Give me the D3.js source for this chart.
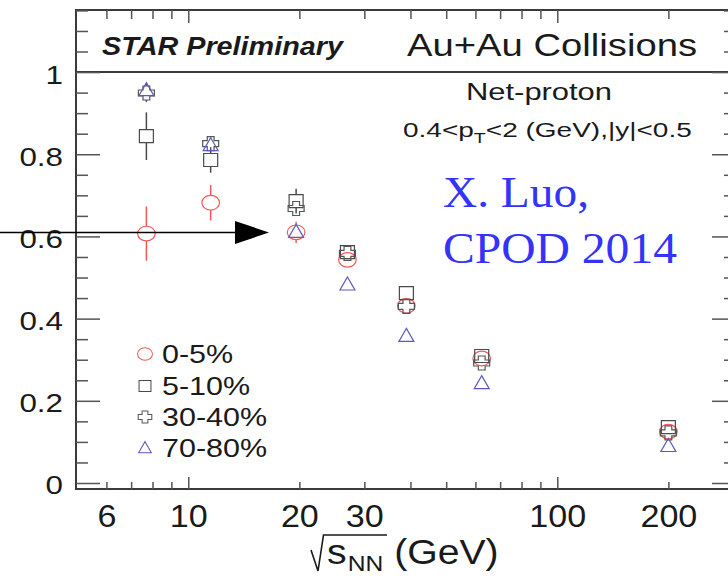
<!DOCTYPE html>
<html>
<head>
<meta charset="utf-8">
<script src="https://cdn.jsdelivr.net/npm/d3@7"></script>
<style>
  body { margin: 0; background: #fff; }
  svg { display: block; }
  text { font-family: "Liberation Sans", Arial, sans-serif; fill: #1a1a1a; }
</style>
</head>
<body>
<script>
// data
var energies = [7.7, 11.5, 19.6, 27, 39, 62.4, 200];
var cent0_5 = [0.607, 0.682, 0.610, 0.543, 0.431, 0.303, 0.125];
var err0_5 = [0.066, 0.043, 0.026, 0.008, 0.006, 0.004, 0.003];
var cent5_10 = [0.844, 0.786, 0.686, 0.562, 0.462, 0.309, 0.136];
var err5_10 = [0.058, 0.031, 0.030, 0.010, 0.007, 0.005, 0.003];
var cent30_40 = [0.949, 0.826, 0.668, 0.559, 0.430, 0.292, 0.122];
var err30_40 = [0.022, 0.012, 0.010, 0.006, 0.004, 0.003, 0.002];
var cent70_80 = [0.956, 0.822, 0.611, 0.483, 0.358, 0.243, 0.090];
var err70_80 = [0.015, 0.010, 0.008, 0.006, 0.004, 0.003, 0.002];
var legendLabels = ["0-5%", "5-10%", "30-40%", "70-80%"];
var xLabelTicks = [6, 10, 20, 30, 100, 200];
var yLabelTicks = [0, 0.2, 0.4, 0.6, 0.8, 1];

var w = 728, h = 578;
var padL = 76, padR = 736, padT = 10, padB = 489;

var svg = d3.select("body").append("svg").attr("width", w).attr("height", h);

var x = d3.scaleLog().domain([4.963, 305]).range([padL, padR]);
var y = d3.scaleLinear().domain([-0.0146, 1.151]).range([padB, padT]);

// stretch text horizontally, like the source picture
function stretch(sel, sx) {
    sel.each(function () {
        var t = d3.select(this);
        var tx = +t.attr("x") || 0, ty = +t.attr("y") || 0;
        t.attr("x", 0).attr("y", 0).attr("transform", "translate(" + tx + "," + ty + ") scale(" + sx + ",1)");
    });
}

var series = [
    { vals: cent0_5, errs: err0_5, color: "#f25a5a", shape: "circle" },
    { vals: cent5_10, errs: err5_10, color: "#4a4a4a", shape: "square" },
    { vals: cent30_40, errs: err30_40, color: "#555555", shape: "cross" },
    { vals: cent70_80, errs: err70_80, color: "#5a5ac0", shape: "triangle" }
];

function markerPath(shape) {
    if (shape == "square") return "M-7,-6.5H7V6.5H-7Z";
    if (shape == "triangle") return "M0,-7.5L7.5,5.5H-7.5Z";
    var a = 3, s = 7, ax = 3.4, sx = 8;
    return "M" + (-ax) + "," + (-s) + "H" + ax + "V" + (-a) + "H" + sx + "V" + a + "H" + ax + "V" + s +
        "H" + (-ax) + "V" + a + "H" + (-sx) + "V" + (-a) + "H" + (-ax) + "Z";
}
var halfH = { circle: 7.3, square: 6.5, triangle: 6.5, cross: 7 };

function drawMarker(g, shape, color) {
    if (shape == "circle") {
        g.append("ellipse").attr("rx", 8.8).attr("ry", 7.3)
            .attr("fill", "none").attr("stroke", color).attr("stroke-width", 1.2);
    } else {
        g.append("path").attr("d", markerPath(shape))
            .attr("fill", "none").attr("stroke", color).attr("stroke-width", 1.2);
    }
}

// frame
svg.append("rect").attr("x", padL).attr("y", padT).attr("width", padR - padL).attr("height", padB - padT)
    .attr("fill", "none").attr("stroke", "#3a3a3a").attr("stroke-width", 2);
svg.append("line").attr("x1", padL).attr("x2", padR).attr("y1", y(1)).attr("y2", y(1))
    .attr("stroke", "#3a3a3a").attr("stroke-width", 2);

// y ticks
var yMinor = d3.range(0, 1.151, 0.05).filter(function (v) { return Math.abs(v * 5 - Math.round(v * 5)) > 0.01; });
function yAxes(gx, dir) {
    var mk = dir == "left" ? d3.axisLeft : d3.axisRight;
    var g1 = svg.append("g").attr("transform", "translate(" + gx + ",0)")
        .call(mk(y).tickValues(yMinor).tickSize(-12).tickFormat(""));
    var g2 = svg.append("g").attr("transform", "translate(" + gx + ",0)")
        .call(mk(y).tickValues(yLabelTicks).tickSize(-24).tickPadding(13)
            .tickFormat(dir == "left" ? function (d) { return d == 0 || d == 1 ? d : d.toFixed(1); } : ""));
    [g1, g2].forEach(function (g) {
        g.select(".domain").remove();
        g.selectAll("line").attr("stroke", "#555").attr("stroke-width", 1.5);
    });
    return g2;
}
var yl = yAxes(padL, "left");
yl.selectAll("text").attr("font-size", 25.5).attr("dy", "0.43em")
    .style("font-family", "Liberation Sans, Arial, sans-serif");
stretch(yl.selectAll("text"), 1.23);
yAxes(padR, "right");

// x ticks
var xMajor = [10, 100];
var xMinor = [6, 7, 8, 9, 20, 30, 40, 50, 60, 70, 80, 90, 200, 300];
function xAxes(gy, dir, lenMaj, lenMin) {
    var mk = dir == "bottom" ? d3.axisBottom : d3.axisTop;
    [[xMinor, lenMin], [xMajor, lenMaj]].forEach(function (p) {
        var g = svg.append("g").attr("transform", "translate(0," + gy + ")")
            .call(mk(x).tickValues(p[0]).tickSize(-p[1]).tickFormat(""));
        g.select(".domain").remove();
        g.selectAll("line").attr("stroke", "#555").attr("stroke-width", 1.5);
    });
}
xAxes(padB, "bottom", 12, 7);
xAxes(padT, "top", 13, 9);

var xl = svg.append("g").attr("transform", "translate(0," + padB + ")")
    .call(d3.axisBottom(x).tickValues(xLabelTicks).tickSize(0).tickPadding(16).tickFormat(d3.format("d")));
xl.select(".domain").remove();
xl.selectAll("text").attr("font-size", 31)
    .style("font-family", "Liberation Sans, Arial, sans-serif");
stretch(xl.selectAll("text"), 1.1);

// axis title: sqrt(s_NN) (GeV)
svg.append("path").attr("d", "M311,550L318,571L323.5,535H387")
    .attr("fill", "none").attr("stroke", "#1a1a1a").attr("stroke-width", 1.6);
var xt = svg.append("text").attr("x", 327).attr("y", 564).attr("font-size", 35);
xt.append("tspan").text("s");
xt.append("tspan").attr("font-size", 22).attr("dy", 7).attr("dx", 1).text("NN");
xt.append("tspan").attr("dy", -7).text(" (GeV)");
stretch(xt, 1.12);

// header
svg.append("text").attr("x", 102).attr("y", 55).attr("font-size", 25).attr("font-weight", "bold")
    .attr("font-style", "italic").attr("textLength", 241).attr("lengthAdjust", "spacingAndGlyphs")
    .text("STAR Preliminary");
svg.append("text").attr("x", 407).attr("y", 56).attr("font-size", 32)
    .attr("textLength", 290).attr("lengthAdjust", "spacingAndGlyphs").text("Au+Au Collisions");
svg.append("text").attr("x", 466).attr("y", 100).attr("font-size", 23.5)
    .attr("textLength", 146).attr("lengthAdjust", "spacingAndGlyphs").text("Net-proton");
var cut = svg.append("text").attr("x", 403).attr("y", 137).attr("font-size", 20);
cut.append("tspan").text("0.4<p");
cut.append("tspan").attr("font-size", 14).attr("dy", 6).text("T");
cut.append("tspan").attr("dy", -6).text("<2 (GeV),|y|<0.5");
stretch(cut, 1.4);

// annotation
svg.append("text").attr("x", 443).attr("y", 207).attr("font-size", 45).style("fill", "#3434f8")
    .style("font-family", "Liberation Serif, Times New Roman, serif")
    .attr("textLength", 146).attr("lengthAdjust", "spacingAndGlyphs").text("X. Luo,");
svg.append("text").attr("x", 443).attr("y", 263).attr("font-size", 45).style("fill", "#3434f8")
    .style("font-family", "Liberation Serif, Times New Roman, serif")
    .attr("textLength", 234).attr("lengthAdjust", "spacingAndGlyphs").text("CPOD 2014");

// data points with error bars
series.forEach(function (s) {
    var g = svg.append("g");
    energies.forEach(function (e, i) {
        var cx = x(e), cy = y(s.vals[i]);
        var yt = y(s.vals[i] + s.errs[i]), yb = y(s.vals[i] - s.errs[i]);
        var hh = halfH[s.shape];
        if (cy - yt > hh) {
            g.append("line").attr("x1", cx).attr("x2", cx).attr("y1", yt).attr("y2", cy - hh)
                .attr("stroke", s.color).attr("stroke-width", 1.5);
            g.append("line").attr("x1", cx).attr("x2", cx).attr("y1", cy + hh).attr("y2", yb)
                .attr("stroke", s.color).attr("stroke-width", 1.5);
        }
        var m = g.append("g").attr("transform", "translate(" + cx + "," + cy + ")");
        drawMarker(m, s.shape, s.color);
    });
});

// legend
var legendY = [354, 386, 417, 448];
series.forEach(function (s, i) {
    var m = svg.append("g").attr("transform", "translate(145," + legendY[i] + ") scale(0.85)");
    drawMarker(m, s.shape, s.color);
    var t = svg.append("text").attr("x", 162).attr("y", legendY[i] + 9).attr("font-size", 25).text(legendLabels[i]);
    stretch(t, 1.22);
});

// arrow
svg.append("line").attr("x1", 0).attr("x2", 240).attr("y1", 232.5).attr("y2", 232.5)
    .attr("stroke", "#000").attr("stroke-width", 1.3);
svg.append("path").attr("d", "M235,221L269,232.5L235,244Z").attr("fill", "#000");
</script>
</body>
</html>
